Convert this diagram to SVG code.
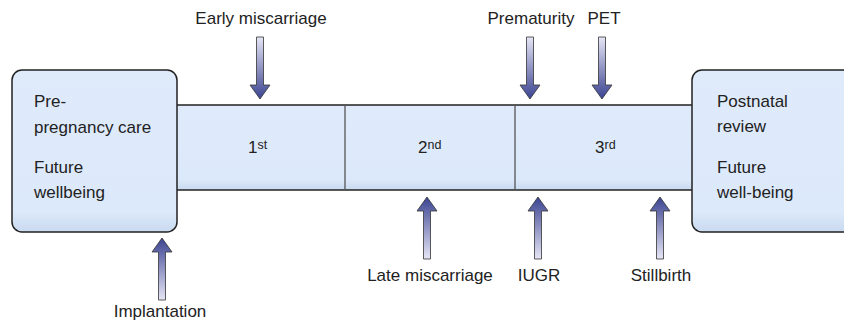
<svg xmlns="http://www.w3.org/2000/svg" width="844" height="322" viewBox="0 0 844 322">
<defs>
<linearGradient id="boxFill" x1="0" y1="0" x2="0" y2="1">
<stop offset="0" stop-color="#dfebfb"/>
<stop offset="0.88" stop-color="#dce9fa"/>
<stop offset="1" stop-color="#c9d9ef"/>
</linearGradient>
<linearGradient id="downGrad" x1="0" y1="0" x2="0" y2="1">
<stop offset="0" stop-color="#e6e6f6"/>
<stop offset="1" stop-color="#3b4391"/>
</linearGradient>
<linearGradient id="upGrad" x1="0" y1="1" x2="0" y2="0">
<stop offset="0" stop-color="#e6e6f6"/>
<stop offset="1" stop-color="#3b4391"/>
</linearGradient>
<path id="downArrow" d="M-3.5,0 H3.5 V48 H10 L0,62 L-10,48 H-3.5 Z" fill="url(#downGrad)"/>
<path id="upArrow" d="M0,0 L10,14 H3.5 V62 H-3.5 V14 H-10 Z" fill="url(#upGrad)"/>
</defs>
<style>
text { font-family: "Liberation Sans", Arial, sans-serif; font-size: 17px; fill: #222; }
.lbl { text-anchor: middle; }
.box { fill: url(#boxFill); stroke: #222; stroke-width: 1.5; }
.seg { fill: url(#boxFill); stroke: none; }
.edge { stroke: #222; stroke-width: 1.5; fill: none; }
.div { stroke: #555; stroke-width: 1.3; fill: none; }
.arr { stroke: #333; stroke-width: 0.8; }
.sup { font-size: 12.5px; }
</style>

<g id="bar">
<rect class="seg" x="176" y="105" width="518" height="85"/>
<line class="edge" x1="176" y1="105" x2="694" y2="105"/>
<line class="edge" x1="176" y1="190" x2="694" y2="190"/>
<line class="div" x1="345" y1="105" x2="345" y2="190"/>
<line class="div" x1="515" y1="105" x2="515" y2="190"/>
</g>

<g id="node-pre">
<rect class="box" x="12" y="70" width="165" height="162" rx="10" ry="10"/>
<text x="34" y="107">Pre-</text>
<text x="34" y="133">pregnancy care</text>
<text x="34" y="173">Future</text>
<text x="34" y="198">wellbeing</text>
</g>

<g id="node-post">
<rect class="box" x="692" y="70" width="175" height="162" rx="10" ry="10"/>
<text x="717" y="107">Postnatal</text>
<text x="717" y="132">review</text>
<text x="717" y="173">Future</text>
<text x="717" y="198">well-being</text>
</g>

<g id="node-first">
<text x="248" y="153">1<tspan class="sup" dy="-4">st</tspan></text>
</g>
<g id="node-second">
<text x="418" y="153">2<tspan class="sup" dy="-4">nd</tspan></text>
</g>
<g id="node-third">
<text x="595" y="153">3<tspan class="sup" dy="-4">rd</tspan></text>
</g>

<g id="connectors">
<use href="#downArrow" class="arr" x="260" y="37"/>
<use href="#downArrow" class="arr" x="530" y="37"/>
<use href="#downArrow" class="arr" x="602" y="37"/>
<use href="#upArrow" class="arr" x="162" y="238"/>
<use href="#upArrow" class="arr" x="427" y="197"/>
<use href="#upArrow" class="arr" x="538" y="197"/>
<use href="#upArrow" class="arr" x="660" y="197"/>
</g>

<g id="labels">
<text class="lbl" x="261" y="24">Early miscarriage</text>
<text class="lbl" x="531" y="24">Prematurity</text>
<text class="lbl" x="604" y="24">PET</text>
<text class="lbl" x="430" y="281">Late miscarriage</text>
<text class="lbl" x="539" y="281">IUGR</text>
<text class="lbl" x="661" y="281">Stillbirth</text>
<text class="lbl" x="160" y="317">Implantation</text>
</g>
</svg>
